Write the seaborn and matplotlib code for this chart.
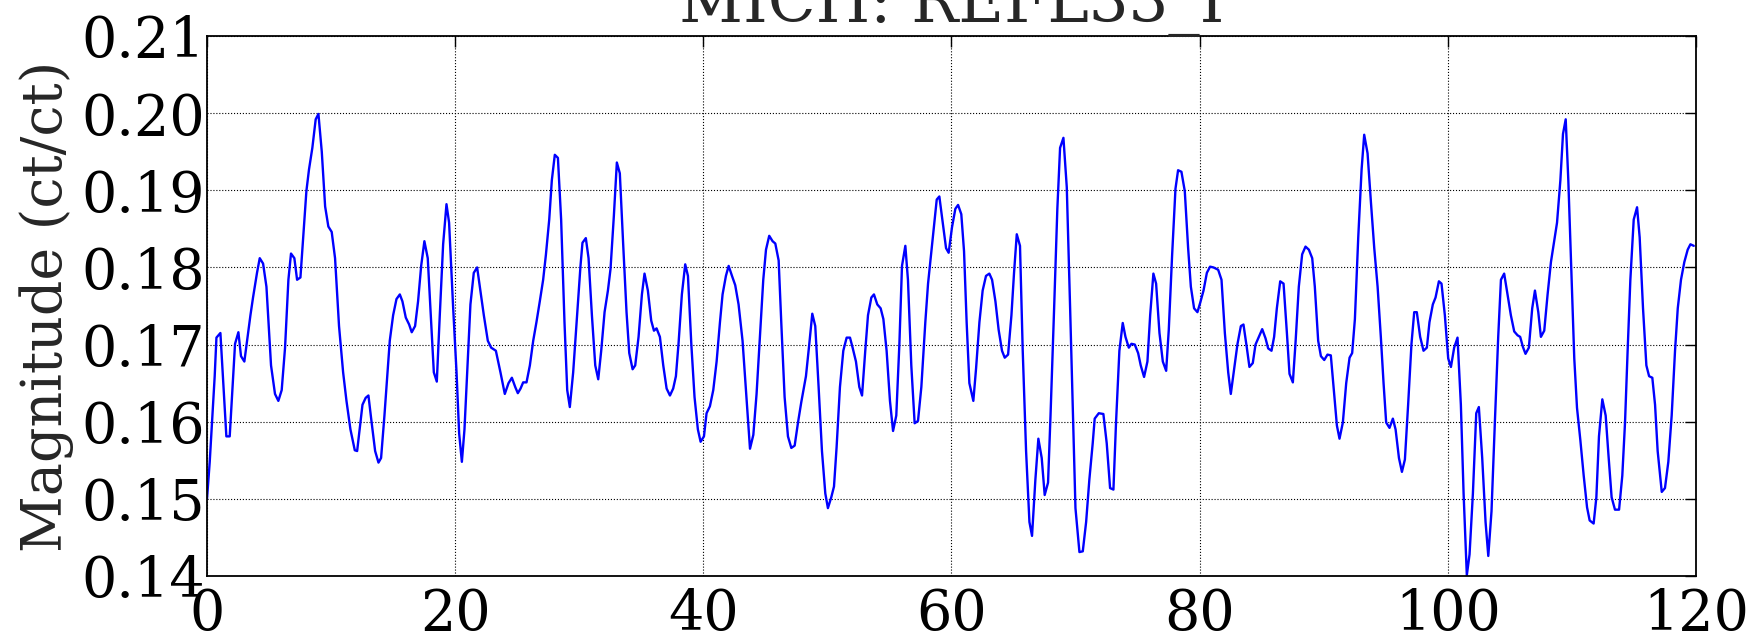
import matplotlib
matplotlib.use("Agg")
import matplotlib.pyplot as plt
import seaborn as sns
import pandas as pd

# ---- data (rows of 10, aligned) ----
time_s = [
    0.00, 0.22, 0.62, 0.76, 1.08, 1.56, 1.83, 2.26, 2.53, 2.74,
    3.01, 3.50, 3.71, 4.03, 4.25, 4.52, 4.79, 5.16, 5.48, 5.75,
    6.02, 6.29, 6.56, 6.77, 7.04, 7.26, 7.53, 8.01, 8.22, 8.49,
    8.76, 8.98, 9.25, 9.52, 9.78, 10.05, 10.32, 10.64, 10.97, 11.24,
    11.56, 11.91, 12.10, 12.53, 12.79, 13.01, 13.23, 13.55, 13.82, 14.03,
    14.30, 14.73, 15.00, 15.27, 15.54, 15.75, 16.02, 16.29, 16.50, 16.77,
    17.01, 17.26, 17.52, 17.79, 18.06, 18.28, 18.52, 18.76, 19.03, 19.30,
    19.51, 19.84, 20.11, 20.32, 20.54, 20.75, 20.97, 21.23, 21.50, 21.77,
    21.99, 22.31, 22.63, 22.90, 23.28, 23.65, 24.00, 24.30, 24.57, 24.84,
    25.05, 25.27, 25.48, 25.75, 26.02, 26.29, 26.55, 26.82, 27.09, 27.31,
    27.58, 27.79, 28.03, 28.28, 28.54, 28.81, 29.03, 29.24, 29.51, 29.83,
    30.10, 30.26, 30.53, 30.75, 31.02, 31.29, 31.53, 31.77, 32.04, 32.31,
    32.52, 32.79, 33.03, 33.27, 33.54, 33.81, 34.03, 34.30, 34.51, 34.78,
    35.05, 35.26, 35.53, 35.80, 36.02, 36.23, 36.50, 36.77, 37.04, 37.31,
    37.57, 37.79, 38.00, 38.27, 38.54, 38.76, 39.03, 39.29, 39.56, 39.78,
    40.05, 40.26, 40.53, 40.80, 41.07, 41.34, 41.55, 41.82, 42.04, 42.31,
    42.57, 42.84, 43.16, 43.49, 43.76, 44.03, 44.29, 44.56, 44.83, 45.05,
    45.31, 45.58, 45.80, 46.07, 46.28, 46.55, 46.82, 47.09, 47.36, 47.63,
    47.89, 48.27, 48.54, 48.78, 49.02, 49.29, 49.56, 49.83, 50.04, 50.31,
    50.53, 50.74, 51.01, 51.28, 51.55, 51.82, 52.03, 52.30, 52.57, 52.79,
    53.05, 53.27, 53.54, 53.75, 54.02, 54.29, 54.51, 54.77, 55.04, 55.29,
    55.55, 55.80, 56.01, 56.28, 56.49, 56.76, 57.03, 57.30, 57.57, 57.89,
    58.11, 58.38, 58.59, 58.81, 59.02, 59.29, 59.56, 59.77, 60.04, 60.31,
    60.53, 60.79, 61.01, 61.22, 61.44, 61.76, 61.98, 62.25, 62.51, 62.78,
    63.05, 63.27, 63.54, 63.80, 64.07, 64.29, 64.56, 64.83, 65.04, 65.26,
    65.52, 65.74, 66.01, 66.28, 66.49, 66.76, 67.00, 67.27, 67.51, 67.78,
    67.98, 68.27, 68.53, 68.75, 69.02, 69.29, 69.56, 69.77, 69.99, 70.31,
    70.58, 70.85, 71.11, 71.38, 71.54, 71.87, 72.24, 72.51, 72.78, 73.05,
    73.26, 73.53, 73.80, 74.02, 74.29, 74.50, 74.77, 75.04, 75.25, 75.52,
    75.79, 76.01, 76.27, 76.49, 76.76, 77.03, 77.30, 77.51, 77.78, 78.05,
    78.26, 78.53, 78.80, 79.07, 79.29, 79.55, 79.82, 80.04, 80.31, 80.58,
    80.84, 81.11, 81.49, 81.76, 82.03, 82.30, 82.51, 82.78, 83.05, 83.32,
    83.53, 83.80, 84.01, 84.28, 84.50, 84.77, 85.04, 85.31, 85.52, 85.79,
    86.00, 86.22, 86.49, 86.76, 87.03, 87.24, 87.51, 87.72, 87.99, 88.26,
    88.53, 88.80, 89.07, 89.28, 89.55, 89.77, 90.04, 90.30, 90.57, 90.79,
    91.06, 91.27, 91.54, 91.81, 92.08, 92.29, 92.51, 92.78, 93.05, 93.26,
    93.53, 93.80, 94.07, 94.34, 94.60, 94.82, 95.03, 95.30, 95.57, 95.79,
    96.06, 96.30, 96.54, 96.80, 97.07, 97.29, 97.50, 97.77, 98.04, 98.31,
    98.52, 98.79, 99.01, 99.28, 99.49, 99.76, 100.03, 100.25, 100.51, 100.78,
    101.05, 101.27, 101.53, 101.75, 102.02, 102.29, 102.50, 102.77, 103.04, 103.26,
    103.52, 103.79, 104.06, 104.28, 104.54, 104.81, 105.08, 105.35, 105.62, 105.83,
    106.05, 106.26, 106.53, 106.80, 107.02, 107.29, 107.50, 107.77, 108.04, 108.31,
    108.53, 108.80, 109.07, 109.28, 109.50, 109.71, 109.93, 110.19, 110.41, 110.68,
    110.95, 111.22, 111.43, 111.75, 111.97, 112.18, 112.45, 112.72, 112.94, 113.20,
    113.47, 113.80, 114.06, 114.28, 114.49, 114.71, 114.98, 115.25, 115.46, 115.73,
    116.00, 116.22, 116.48, 116.70, 116.91, 117.24, 117.50, 117.77, 118.04, 118.31,
    118.53, 118.79, 119.06, 119.33, 119.55, 119.82,
]

magnitude = [
    0.1500, 0.1548, 0.1659, 0.1709, 0.1715, 0.1581, 0.1581, 0.1701, 0.1716, 0.1685,
    0.1678, 0.1738, 0.1761, 0.1793, 0.1812, 0.1805, 0.1775, 0.1673, 0.1636, 0.1627,
    0.1641, 0.1696, 0.1784, 0.1818, 0.1812, 0.1784, 0.1787, 0.1899, 0.1927, 0.1955,
    0.1992, 0.1999, 0.1950, 0.1879, 0.1853, 0.1846, 0.1812, 0.1724, 0.1664, 0.1627,
    0.1590, 0.1563, 0.1562, 0.1622, 0.1631, 0.1634, 0.1604, 0.1562, 0.1547, 0.1553,
    0.1608, 0.1705, 0.1738, 0.1759, 0.1765, 0.1756, 0.1735, 0.1726, 0.1716, 0.1724,
    0.1756, 0.1802, 0.1834, 0.1812, 0.1729, 0.1664, 0.1652, 0.1738, 0.1830, 0.1882,
    0.1858, 0.1747, 0.1664, 0.1585, 0.1548, 0.1590, 0.1664, 0.1752, 0.1793, 0.1800,
    0.1775, 0.1738, 0.1705, 0.1696, 0.1692, 0.1664, 0.1636, 0.1650, 0.1657, 0.1645,
    0.1637, 0.1643, 0.1651, 0.1651, 0.1673, 0.1705, 0.1729, 0.1756, 0.1784, 0.1816,
    0.1862, 0.1913, 0.1946, 0.1942, 0.1862, 0.1729, 0.1641, 0.1619, 0.1664, 0.1738,
    0.1802, 0.1832, 0.1838, 0.1812, 0.1738, 0.1673, 0.1655, 0.1692, 0.1742, 0.1770,
    0.1798, 0.1867, 0.1936, 0.1922, 0.1830, 0.1742, 0.1689, 0.1668, 0.1673, 0.1710,
    0.1765, 0.1792, 0.1770, 0.1731, 0.1718, 0.1721, 0.1710, 0.1673, 0.1643, 0.1634,
    0.1643, 0.1659, 0.1701, 0.1765, 0.1804, 0.1789, 0.1701, 0.1632, 0.1590, 0.1574,
    0.1581, 0.1611, 0.1620, 0.1641, 0.1678, 0.1729, 0.1765, 0.1789, 0.1802, 0.1789,
    0.1777, 0.1752, 0.1705, 0.1627, 0.1565, 0.1583, 0.1636, 0.1710, 0.1784, 0.1823,
    0.1841, 0.1834, 0.1831, 0.1809, 0.1729, 0.1632, 0.1581, 0.1566, 0.1569, 0.1599,
    0.1625, 0.1659, 0.1701, 0.1740, 0.1724, 0.1645, 0.1562, 0.1507, 0.1488, 0.1502,
    0.1516, 0.1567, 0.1645, 0.1692, 0.1709, 0.1709, 0.1696, 0.1678, 0.1645, 0.1634,
    0.1692, 0.1738, 0.1761, 0.1765, 0.1752, 0.1747, 0.1733, 0.1692, 0.1627, 0.1588,
    0.1608, 0.1701, 0.1802, 0.1828, 0.1784, 0.1673, 0.1598, 0.1601, 0.1645, 0.1729,
    0.1779, 0.1821, 0.1853, 0.1888, 0.1892, 0.1858, 0.1825, 0.1819, 0.1852, 0.1876,
    0.1881, 0.1869, 0.1821, 0.1729, 0.1650, 0.1627, 0.1669, 0.1729, 0.1770, 0.1789,
    0.1792, 0.1784, 0.1756, 0.1719, 0.1692, 0.1683, 0.1687, 0.1738, 0.1793, 0.1843,
    0.1828, 0.1692, 0.1562, 0.1470, 0.1452, 0.1525, 0.1578, 0.1553, 0.1505, 0.1521,
    0.1608, 0.1747, 0.1876, 0.1955, 0.1968, 0.1904, 0.1747, 0.1618, 0.1488, 0.1431,
    0.1432, 0.1470, 0.1525, 0.1572, 0.1604, 0.1611, 0.1610, 0.1572, 0.1514, 0.1512,
    0.1599, 0.1692, 0.1728, 0.1710, 0.1696, 0.1701, 0.1700, 0.1689, 0.1673, 0.1658,
    0.1678, 0.1738, 0.1792, 0.1779, 0.1715, 0.1678, 0.1666, 0.1719, 0.1816, 0.1902,
    0.1926, 0.1924, 0.1899, 0.1825, 0.1775, 0.1747, 0.1742, 0.1754, 0.1770, 0.1793,
    0.1801, 0.1800, 0.1797, 0.1784, 0.1715, 0.1664, 0.1636, 0.1669, 0.1701, 0.1724,
    0.1726, 0.1696, 0.1671, 0.1676, 0.1700, 0.1710, 0.1720, 0.1708, 0.1695, 0.1692,
    0.1710, 0.1747, 0.1782, 0.1779, 0.1715, 0.1662, 0.1651, 0.1701, 0.1775, 0.1817,
    0.1827, 0.1823, 0.1812, 0.1775, 0.1705, 0.1685, 0.1680, 0.1687, 0.1686, 0.1645,
    0.1595, 0.1578, 0.1599, 0.1650, 0.1683, 0.1689, 0.1733, 0.1839, 0.1927, 0.1972,
    0.1948, 0.1885, 0.1825, 0.1775, 0.1710, 0.1650, 0.1599, 0.1592, 0.1604, 0.1590,
    0.1553, 0.1535, 0.1551, 0.1622, 0.1701, 0.1742, 0.1742, 0.1710, 0.1692, 0.1696,
    0.1729, 0.1752, 0.1761, 0.1782, 0.1779, 0.1738, 0.1682, 0.1671, 0.1696, 0.1709,
    0.1622, 0.1507, 0.1401, 0.1428, 0.1507, 0.1611, 0.1619, 0.1553, 0.1470, 0.1426,
    0.1484, 0.1599, 0.1710, 0.1784, 0.1792, 0.1765, 0.1738, 0.1717, 0.1712, 0.1710,
    0.1697, 0.1688, 0.1696, 0.1747, 0.1770, 0.1742, 0.1710, 0.1718, 0.1765, 0.1807,
    0.1830, 0.1858, 0.1913, 0.1973, 0.1992, 0.1913, 0.1807, 0.1682, 0.1618, 0.1576,
    0.1530, 0.1489, 0.1472, 0.1468, 0.1502, 0.1581, 0.1629, 0.1608, 0.1558, 0.1502,
    0.1486, 0.1486, 0.1530, 0.1599, 0.1692, 0.1784, 0.1862, 0.1878, 0.1839, 0.1747,
    0.1673, 0.1659, 0.1657, 0.1622, 0.1562, 0.1509, 0.1514, 0.1548, 0.1608, 0.1692,
    0.1747, 0.1784, 0.1807, 0.1823, 0.1830, 0.1828,
]

x_ticks = [0, 20, 40, 60, 80, 100, 120]
y_ticks = [0.14, 0.15, 0.16, 0.17, 0.18, 0.19, 0.20, 0.21]
y_tick_labels = ["0.14", "0.15", "0.16", "0.17", "0.18", "0.19", "0.20", "0.21"]
title_text = "MICH: REFL33_I"
y_label_text = "Magnitude (ct/ct)"

# ---- figure ----
sns.set_style("white")
plt.rcParams["font.family"] = ["DejaVu Serif"]
FS = 40
plt.rcParams["font.size"] = FS

df = pd.DataFrame({"t": time_s, "mag": magnitude})

W, H = 1758, 633
fig = plt.figure(figsize=(W / 100, H / 100), dpi=100)
ax = fig.add_axes([207 / W, 1 - 576 / H, (1696 - 207) / W, (576 - 36) / H])

sns.lineplot(data=df, x="t", y="mag", ax=ax, color="#0000ff", linewidth=1.7,
             estimator=None, sort=False)

ax.set_xlim(0, 120)
ax.set_ylim(0.14, 0.21)
ax.set_xticks(x_ticks)
ax.set_xticklabels([str(v) for v in x_ticks])
ax.set_yticks(y_ticks)
ax.set_yticklabels(y_tick_labels)

ax.grid(True, which="major", color="black", linestyle=":", linewidth=0.8)
ax.tick_params(axis="both", which="major", direction="in", length=8, width=1,
               top=True, right=True, labelsize=FS, colors="black")
ax.tick_params(axis="x", pad=8)
ax.tick_params(axis="y", pad=1.5)
for sp in ax.spines.values():
    sp.set_visible(True)
    sp.set_color("black")
    sp.set_linewidth(1.3)

ax.set_xlabel("")
ax.set_ylabel(y_label_text, fontsize=FS, labelpad=5)
ax.set_title(title_text, fontsize=45, x=0.5, pad=10)

fig.savefig("out.png", dpi=100)
